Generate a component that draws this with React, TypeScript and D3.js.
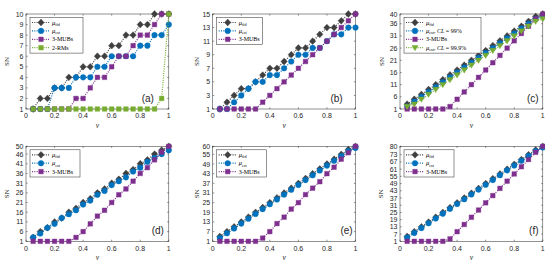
import React, { useRef, useEffect } from 'react';
import * as d3 from 'd3';

// v values shared by all panels
const vValues = [0.05, 0.1, 0.15, 0.2, 0.25, 0.3, 0.35, 0.4, 0.45, 0.5, 0.55, 0.6, 0.65, 0.7, 0.75, 0.8, 0.85, 0.9, 0.95, 1];
const xTicks = [0, 0.2, 0.4, 0.6, 0.8, 1];

// (a)
const fidA = [1, 2, 2, 3, 3, 4, 4, 5, 5, 6, 6, 7, 7, 8, 8, 9, 9, 10, 10, 10];
const estA = [1, 1, 1, 3, 3, 3, 4, 4, 4, 5, 5, 6, 6, 6, 6, 7, 7, 8, 8, 9];
const mubA = [1, 1, 1, 1, 1, 1, 2, 2, 3, 4, 4, 5, 6, 6, 7, 8, 8, 9, 10, 10];
const rmA = [1, 1, 1, 1, 1, 1, 1, 1, 1, 1, 1, 1, 1, 1, 1, 1, 1, 1, 2, 10];
const ticksA = [1, 2, 3, 4, 5, 6, 7, 8, 9, 10];

// (b)
const fidB = [1, 2, 3, 4, 4, 5, 6, 7, 7, 8, 9, 10, 10, 11, 12, 13, 13, 14, 15, 15];
const estB = [1, 1, 2, 3, 4, 5, 5, 6, 6, 7, 8, 9, 9, 10, 10, 11, 12, 12, 13, 13];
const mubB = [1, 1, 1, 1, 1, 1, 2, 3, 4, 5, 6, 7, 8, 9, 10, 11, 12, 13, 14, 15];
const ticksB = [1, 3, 5, 7, 9, 11, 13, 15];

// (c)
const fidC = [3, 5, 7, 9, 11, 13, 15, 17, 19, 21, 23, 25, 27, 29, 31, 33, 35, 37, 39, 40];
const est99C = [2, 4, 6, 8, 10, 12, 14, 16, 18, 20, 22, 24, 26, 28, 30, 32, 34, 36, 38, 39];
const mubC = [1, 1, 1, 1, 1, 1, 2, 5, 8, 11, 14, 17, 20, 23, 26, 29, 32, 35, 38, 40];
const est999C = [2, 3, 5, 7, 9, 11, 13, 15, 17, 19, 21, 23, 25, 27, 29, 31, 33, 35, 37, 38];
const ticksC = [1, 6, 11, 16, 21, 26, 31, 36, 40];

// (d)
const fidD = [3, 6, 8, 11, 13, 16, 18, 21, 23, 26, 28, 31, 33, 36, 38, 41, 43, 46, 48, 50];
const estD = [3, 5, 8, 10, 13, 15, 17, 20, 22, 25, 27, 30, 32, 34, 37, 39, 42, 44, 46, 48];
const mubD = [1, 1, 1, 1, 1, 1, 3, 6, 10, 14, 17, 21, 25, 28, 32, 36, 39, 43, 47, 50];
const ticksD = [1, 6, 11, 16, 21, 26, 31, 36, 41, 46, 50];

// (e)
const fidE = [4, 7, 10, 13, 16, 19, 22, 25, 28, 31, 34, 37, 40, 43, 46, 49, 52, 55, 58, 60];
const estE = [3, 6, 9, 12, 15, 18, 21, 24, 27, 30, 33, 36, 39, 42, 45, 48, 51, 54, 57, 59];
const mubE = [1, 1, 1, 1, 1, 1, 3, 7, 12, 16, 21, 25, 30, 34, 38, 43, 47, 52, 56, 60];
const ticksE = [1, 7, 13, 19, 25, 31, 37, 43, 49, 55, 60];

// (f)
const fidF = [5, 9, 13, 17, 21, 25, 29, 33, 37, 41, 45, 49, 53, 57, 61, 65, 69, 73, 77, 80];
const estF = [4, 8, 12, 16, 20, 24, 28, 32, 36, 40, 44, 48, 52, 56, 60, 64, 68, 72, 76, 79];
const mubF = [1, 1, 1, 1, 1, 1, 3, 9, 15, 21, 27, 33, 39, 45, 51, 57, 63, 69, 75, 80];
const ticksF = [1, 7, 13, 19, 25, 31, 37, 43, 49, 55, 61, 67, 73, 80];

const GREY = '#3f3f3f';
const BLUE = '#0072bd';
const PURPLE = '#7e2f8e';
const GREEN = '#77ac30';
const AXIS = '#262626';

const fid = (values) => ({ values, color: GREY, marker: 'diamond', label: ['μ', 'fid', ''] });
const est = (values, extra = '') => ({ values, color: BLUE, marker: 'circle', label: ['μ', 'est', extra] });
const mub = (values) => ({ values, color: PURPLE, marker: 'square', label: ['', '', '3-MUBs'] });

const panels = [
  { tag: '(a)', left: 26, top: 14, yMax: 10, yTicks: ticksA, legW: 53, snDx: 17, tagDx: 21,
    series: [fid(fidA), est(estA), mub(mubA), { values: rmA, color: GREEN, marker: 'square', label: ['', '', '2-RMs'] }] },
  { tag: '(b)', left: 212.7, top: 14, yMax: 15, yTicks: ticksB, legW: 46, snDx: 13.5, tagDx: 19,
    series: [fid(fidB), est(estB), mub(mubB)] },
  { tag: '(c)', left: 400, top: 14, yMax: 40, yTicks: ticksC, legW: 77, snDx: 16, tagDx: 10,
    series: [fid(fidC), est(est99C, 'cl99'), mub(mubC), { values: est999C, color: GREEN, marker: 'triangle', label: ['μ', 'est', 'cl999'] }] },
  { tag: '(d)', left: 26, top: 146.3, yMax: 50, yTicks: ticksD, legW: 50, snDx: 17, tagDx: 11,
    series: [fid(fidD), est(estD), mub(mubD)] },
  { tag: '(e)', left: 212.7, top: 146.3, yMax: 60, yTicks: ticksE, legW: 50, snDx: 13.5, tagDx: 9,
    series: [fid(fidE), est(estE), mub(mubE)] },
  { tag: '(f)', left: 400, top: 146.3, yMax: 80, yTicks: ticksF, legW: 50, snDx: 17, tagDx: 9,
    series: [fid(fidF), est(estF), mub(mubF)] },
];

const plotW = 142.8;
const plotH = 95;

function markerPath(type) {
  if (type === 'diamond') return 'M0,-3.4L3.2,0L0,3.4L-3.2,0Z';
  if (type === 'square') return 'M-2.3,-2.3H2.3V2.3H-2.3Z';
  if (type === 'triangle') return 'M-3.1,-2.2L3.1,-2.2L0,3.1Z';
  return d3.symbol(d3.symbolCircle, 25)();
}

function writeLabel(text, label) {
  const [greek, sub, extra] = label;
  const serif = '"Liberation Serif", "DejaVu Serif", serif';
  text.attr('font-family', serif);
  if (greek) {
    text.append('tspan').attr('font-style', 'italic').attr('font-size', 6.5).text(greek);
    text.append('tspan').attr('font-size', 4.2).attr('dy', 1.4).text(sub);
    if (extra) {
      const pct = extra === 'cl99' ? '99%' : '99.9%';
      text.append('tspan').attr('font-size', 6).attr('dy', -1.4).text(', ');
      text.append('tspan').attr('font-size', 6).attr('font-style', 'italic').text('CL');
      text.append('tspan').attr('font-size', 6).text(' = ' + pct);
    }
  } else {
    text.append('tspan').attr('font-size', 6).text(extra);
  }
}

const App = () => {
  const ref = useRef(null);

  useEffect(() => {
    const svg = d3.select(ref.current);
    svg.selectAll('*').remove();
    const sans = '"Liberation Sans", Arial, sans-serif';

    panels.forEach(p => {
      const x = d3.scaleLinear().domain([0, 1]).range([p.left, p.left + plotW]);
      const y = d3.scaleLinear().domain([1, p.yMax]).range([p.top + plotH, p.top]);
      const g = svg.append('g');
      const bottom = p.top + plotH;
      const right = p.left + plotW;

      // background + box
      g.append('rect').attr('x', p.left).attr('y', p.top).attr('width', plotW).attr('height', plotH)
        .attr('fill', 'white').attr('stroke', AXIS).attr('stroke-width', 0.5);

      // ticks (inside, mirrored)
      xTicks.forEach(t => {
        g.append('line').attr('x1', x(t)).attr('x2', x(t)).attr('y1', bottom).attr('y2', bottom - 1.6)
          .attr('stroke', AXIS).attr('stroke-width', 0.5);
        g.append('line').attr('x1', x(t)).attr('x2', x(t)).attr('y1', p.top).attr('y2', p.top + 1.6)
          .attr('stroke', AXIS).attr('stroke-width', 0.5);
        g.append('text').attr('x', x(t)).attr('y', bottom + 9.2).attr('text-anchor', 'middle')
          .attr('font-family', sans).attr('font-size', 7).attr('fill', AXIS).text(d3.format('~g')(t));
      });
      p.yTicks.forEach(t => {
        g.append('line').attr('x1', p.left).attr('x2', p.left + 1.6).attr('y1', y(t)).attr('y2', y(t))
          .attr('stroke', AXIS).attr('stroke-width', 0.5);
        g.append('line').attr('x1', right).attr('x2', right - 1.6).attr('y1', y(t)).attr('y2', y(t))
          .attr('stroke', AXIS).attr('stroke-width', 0.5);
        g.append('text').attr('x', p.left - 2.5).attr('y', y(t) + 2.5).attr('text-anchor', 'end')
          .attr('font-family', sans).attr('font-size', 7).attr('fill', AXIS).text(t);
      });

      // axis labels
      g.append('text').attr('x', (p.left + right) / 2).attr('y', bottom + 18.5).attr('text-anchor', 'middle')
        .attr('font-family', '"Liberation Serif", serif').attr('font-style', 'italic').attr('font-size', 7.5)
        .attr('fill', AXIS).text('v');
      g.append('text').attr('transform', `translate(${p.left - p.snDx},${p.top + plotH / 2}) rotate(-90)`)
        .attr('text-anchor', 'middle').attr('font-family', '"Liberation Serif", serif').attr('font-size', 7)
        .attr('fill', AXIS).text('SN');

      // series
      const line = d3.line().x((d, i) => x(vValues[i])).y(d => y(d));
      p.series.forEach(s => {
        g.append('path').datum(s.values).attr('d', line).attr('fill', 'none')
          .attr('stroke', s.color).attr('stroke-width', 1.2).attr('stroke-dasharray', '1,1.3');
        g.selectAll(null).data(s.values).join('path')
          .attr('d', markerPath(s.marker))
          .attr('transform', (d, i) => `translate(${x(vValues[i])},${y(d)})`)
          .attr('fill', s.color).attr('stroke', s.color).attr('stroke-width', 0.4);
      });

      // panel tag
      g.append('text').attr('x', right - p.tagDx).attr('y', bottom - 7.5).attr('text-anchor', 'middle')
        .attr('font-family', sans).attr('font-size', 10).attr('fill', AXIS).text(p.tag);

      // legend
      const lx = p.left + 4;
      const ly = p.top + 3.5;
      const rowH = 8.4;
      const lg = g.append('g');
      lg.append('rect').attr('x', lx).attr('y', ly).attr('width', p.legW)
        .attr('height', p.series.length * rowH + 2).attr('fill', 'white')
        .attr('stroke', AXIS).attr('stroke-width', 0.5);
      p.series.forEach((s, i) => {
        const cy = ly + 5 + i * rowH;
        lg.append('line').attr('x1', lx + 2).attr('x2', lx + 20).attr('y1', cy).attr('y2', cy)
          .attr('stroke', s.color).attr('stroke-width', 1.2).attr('stroke-dasharray', '1,1.3');
        lg.append('path').attr('d', markerPath(s.marker)).attr('transform', `translate(${lx + 11},${cy})`)
          .attr('fill', s.color).attr('stroke', s.color).attr('stroke-width', 0.4);
        const t = lg.append('text').attr('x', lx + 22).attr('y', cy + 2).attr('fill', '#000');
        writeLabel(t, s.label);
      });
    });
  }, []);

  return (
    <svg ref={ref} width={545} height={266}
      style={{ position: 'absolute', left: 0, top: 0, background: 'white' }} />
  );
};

export default App;
